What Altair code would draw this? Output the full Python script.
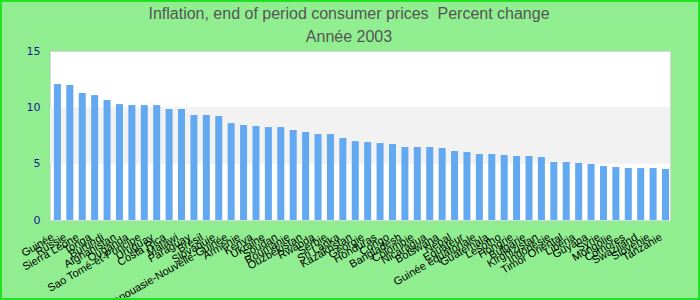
import altair as alt
import pandas as pd

countries = [
    "Guinée", "Russie", "Sierra Leone", "Tonga", "Burundi", "Afghanistan",
    "Ouganda", "Sao Tomé-et-Principe", "Uruguay", "Costa Rica", "Malawi",
    "Paraguay", "Brésil", "Slovaquie", "Papouasie-Nouvelle-Guinée", "Arménie",
    "Kenya", "Ukraine", "Soudan", "Roumanie", "Ouzbékistan", "Rwanda",
    "Serbie", "Sri Lanka", "Kazakhstan", "Géorgie", "Honduras", "Congo",
    "Bangladesh", "Colombie", "Nicaragua", "Botswana", "Népal", "Equateur",
    "Guinée équatoriale", "Guatemala", "Lesotho", "Hongrie", "Bulgarie",
    "Kirghizistan", "Indonésie", "Timor Oriental", "Libéria", "Guyana",
    "Syrie", "Mongolie", "Comores", "Swaziland", "Slovénie", "Tanzanie",
]
values = [
    12.07, 11.98, 11.27, 11.09, 10.65, 10.29, 10.2, 10.2, 10.2, 9.85,
    9.85, 9.32, 9.32, 9.23, 8.6, 8.43, 8.34, 8.25, 8.25, 7.99,
    7.81, 7.63, 7.63, 7.28, 7.0, 6.92, 6.83, 6.74, 6.48, 6.48,
    6.48, 6.39, 6.12, 6.03, 5.86, 5.86, 5.77, 5.68, 5.68, 5.59,
    5.15, 5.15, 5.06, 4.97, 4.79, 4.7, 4.61, 4.61, 4.61, 4.53,
]
y_ticks = [0, 5, 10, 15]
band_low, band_high = 5, 10

df = pd.DataFrame({"pays": countries, "inflation": values})

y_axis = alt.Axis(values=y_ticks, title=None, grid=False, ticks=False,
                  domain=False, labelColor="#1a1a99", labelFont="DejaVu Sans",
                  labelFontSize=11, labelPadding=10)

bars = alt.Chart(df).mark_bar(color="#62a9f2").encode(
    x=alt.X(
        "pays:N", sort=None,
        scale=alt.Scale(paddingInner=0.436, paddingOuter=0.197, align=0.8),
        axis=alt.Axis(title=None, labelAngle=-30, labelFont="Liberation Sans",
                      labelFontSize=11, labelColor="#000000", ticks=False,
                      domain=False, labelPadding=11, labelOffset=-7,
                      labelOverlap=False),
    ),
    y=alt.Y(
        "inflation:Q",
        scale=alt.Scale(domain=[0, 15], nice=False),
        axis=y_axis,
    ),
)

band = alt.Chart(alt.Data(values=[{}])).mark_rect(color="#f2f2f2").encode(
    y=alt.datum(band_low), y2=alt.datum(band_high)
)

frame = alt.Chart(alt.Data(values=[{}])).mark_rect(
    fillOpacity=0, stroke="#22e022", strokeWidth=2
).encode(
    x=alt.value(-49), x2=alt.value(649), y=alt.value(-50), y2=alt.value(248)
)

chart = alt.layer(band, bars, frame).properties(
    width=620,
    height=169,
    padding={"left": 50, "top": 51, "right": 30, "bottom": 80},
    autosize=alt.AutoSizeParams(type="none"),
    background="#90ee90",
    title=alt.Title(
        ["Inflation, end of period consumer prices\u00a0 Percent change", "Année 2003"],
        font="Liberation Sans", fontSize=16, fontWeight="normal", color="#555555",
        lineHeight=23, anchor="middle", offset=0, dy=45, dx=-11,
    ),
).configure_view(stroke="#d8d8d8", strokeWidth=1, fill="white")

chart.save("out.html", embed_options={"renderer": "svg", "actions": False})
